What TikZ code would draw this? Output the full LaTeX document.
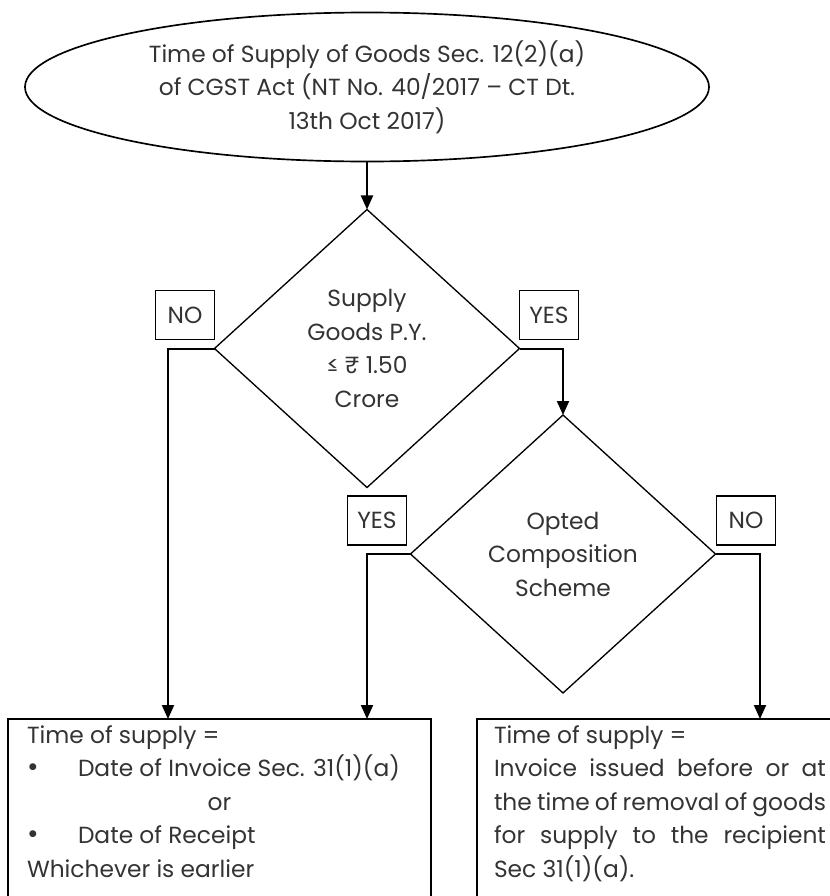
\documentclass[tikz,border=0pt]{standalone}
\usepackage{fontspec}
\setmainfont{Poppins}
\usetikzlibrary{shapes.geometric,arrows.meta,positioning}

\begin{document}
\begin{tikzpicture}[
    x=0.75pt,y=-0.75pt,
    every node/.style={font=\fontsize{17.5}{25.1}\selectfont,text=black!80},
    start/.style={ellipse,draw,line width=1.25pt,inner sep=0pt,outer sep=0pt,
                  minimum width=513pt,minimum height=111.75pt,align=center},
    decision/.style={diamond,draw,line width=1pt,inner sep=0pt,outer sep=0pt,
                     minimum width=228.75pt,minimum height=208.5pt,align=center},
    answer/.style={rectangle,draw,line width=0.9pt,inner sep=0pt,outer sep=0pt,
                   minimum width=44.25pt,minimum height=36.75pt},
    outcome/.style={rectangle,draw,line width=1.5pt,anchor=north west,outer sep=0pt,
                    inner ysep=5pt},
    arrow/.style={-{Triangle[length=10.5pt,width=9pt]},line width=1.5pt}
]
\useasboundingbox (0,0) rectangle (830,896);

\node[start] (tos) at (367,87)
    {Time of Supply of Goods Sec. 12(2)(a)\\of CGST Act (NT No. 40/2017 – CT Dt.\\13th Oct 2017)};
\node[decision,below=36pt of tos] (supply) {Supply\\Goods P.Y.\\≤ ₹ 1.50\\Crore};
\node[decision] (opted) at (563,554) {Opted\\Composition\\Scheme};

\node[answer,above left=6.75pt and 0pt of supply.west] (no1) {NO};
\node[answer,above right=6.75pt and 0pt of supply.east] (yes1) {YES};
\node[answer,above left=6.75pt and 3pt of opted.west] (yes2) {YES};
\node[answer,above right=6.75pt and 0.75pt of opted.east] (no2) {NO};

% outcomes, cut off by the page edge
\node[outcome,inner xsep=14.25pt] (leftbox) at (8,719)
    {\parbox[t][160pt][t]{288.75pt}{Time of supply =\\
     \makebox[38.25pt][l]{\fontsize{21}{21}\selectfont•}Date of Invoice Sec. 31(1)(a)\\
     \hspace*{\fill}or\hspace*{\fill}\\
     \makebox[38.25pt][l]{\fontsize{21}{21}\selectfont•}Date of Receipt\\
     Whichever is earlier}};
\node[outcome,inner xsep=12.75pt,right=34.5pt of leftbox.north east,anchor=north west] (rightbox)
    {\parbox[t][160pt][t]{249pt}{Time of supply =\\
     \makebox[\linewidth][s]{Invoice issued before or at}\\
     \makebox[\linewidth][s]{the time of removal of goods}\\
     \makebox[\linewidth][s]{for supply to the recipient}\\
     Sec 31(1)(a).}};

\draw[arrow] (tos) -- (supply);
\draw[arrow] (supply.east) -| (opted.north);
\draw[arrow] (supply.west) -| ([xshift=120pt]leftbox.north west);
\draw[arrow] (opted.west) -| ([xshift=-48pt]leftbox.north east);
\draw[arrow] (opted.east) -| ([xshift=212.25pt]rightbox.north west);
\end{tikzpicture}
\end{document}
